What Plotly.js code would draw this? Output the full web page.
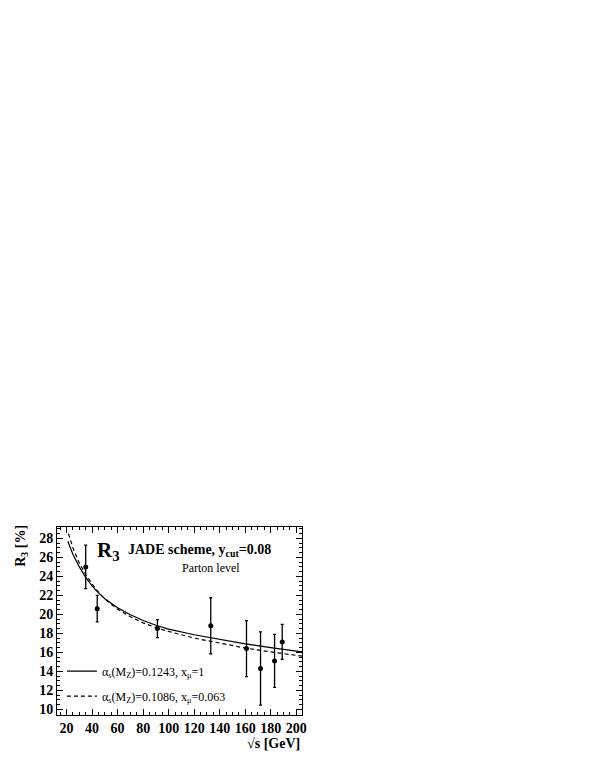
<!DOCTYPE html>
<html>
<head>
<meta charset="utf-8">
<script src="https://cdn.plot.ly/plotly-3.0.1.min.js"></script>
<style>body{margin:0;background:#fff;} #chart{width:599px;height:776px;}</style>
</head>
<body>
<div id="chart"></div>
<script>
// measured R3 points (sqrt(s) in GeV, R3 in %)
const sqrt_s = [35, 44, 91.2, 133, 161, 172, 183, 189];
const r3 = [25.0, 20.6, 18.5, 18.8, 16.4, 14.3, 15.1, 17.1];
const r3_err = [2.3, 1.4, 0.95, 2.95, 2.95, 3.85, 2.8, 1.85];

// theory curves
const q_solid = [21, 22, 25, 30, 35, 40, 44, 50, 60, 70, 80, 91.2, 100, 120, 140, 160, 180, 200, 204.5];
const r3_solid = [27.7, 27.35, 26.3, 25.0, 23.9, 23.0, 22.4, 21.65, 20.7, 19.95, 19.35, 18.8, 18.45, 17.85, 17.35, 16.9, 16.5, 16.1, 16.05];
const q_dashed = [21.5, 25, 30, 35, 40, 44, 50, 60, 70, 80, 91.2, 100, 120, 140, 160, 180, 200, 204.5];
const r3_dashed = [28.5, 27.0, 25.4, 24.2, 23.2, 22.5, 21.6, 20.55, 19.75, 19.1, 18.55, 18.2, 17.5, 16.95, 16.45, 16.05, 15.7, 15.6];

const serif = '"Liberation Serif", "Times New Roman", Times, serif';

const solid = {
    name: "α<sub>s</sub>(M<sub>Z</sub>)=0.1243, x<sub>μ</sub>=1",
    x: q_solid, y: r3_solid,
    mode: "lines", type: "scatter",
    line: { color: "black", width: 1.2 },
    legendgroup: "a",
};
const dashed = {
    name: "α<sub>s</sub>(M<sub>Z</sub>)=0.1086, x<sub>μ</sub>=0.063",
    x: q_dashed, y: r3_dashed,
    mode: "lines", type: "scatter",
    line: { color: "black", width: 1.2, dash: "4px,3px" },
    legendgroup: "b",
};
const points = {
    x: sqrt_s, y: r3,
    error_y: { type: "data", array: r3_err, color: "black", thickness: 1.3, width: 1.5 },
    mode: "markers", type: "scatter",
    marker: { color: "black", size: 5 },
    showlegend: false,
};

const axis_common = {
    showline: true, linecolor: "black", linewidth: 1,
    mirror: "allticks", ticks: "inside", tickcolor: "black",
    showgrid: false, zeroline: false,
    tickfont: { family: serif, size: 14, color: "black", weight: "bold" },
};

const layout = {
    width: 599, height: 776,
    margin: { l: 57, r: 297, t: 527, b: 61 },
    paper_bgcolor: "white", plot_bgcolor: "white",
    showlegend: true,
    legend: {
        x: 0.02, y: 0.31, xanchor: "left", yanchor: "top",
        bgcolor: "rgba(0,0,0,0)",
        font: { family: serif, size: 12, color: "black" },
        tracegroupgap: 6,
    },
    xaxis: Object.assign({}, axis_common, {
        range: [12.5, 204.5], dtick: 20, tick0: 0, ticklen: 6,
        minor: { dtick: 5, ticklen: 3, ticks: "inside", tickcolor: "black" },
    }),
    yaxis: Object.assign({}, axis_common, {
        range: [9.4, 29.2], dtick: 2, tick0: 0, ticklen: 6,
        minor: { dtick: 0.5, ticklen: 3, ticks: "inside", tickcolor: "black" },
    }),
    annotations: [
        { text: "<b>R<sub>3</sub></b>", xref: "paper", yref: "paper", x: 0.155, y: 0.875,
          xanchor: "left", yanchor: "middle",
          showarrow: false, font: { family: serif, size: 21, color: "black" } },
        { text: "<b>JADE scheme, y<sub>cut</sub>=0.08</b>", xref: "paper", yref: "paper", x: 0.28, y: 0.875,
          xanchor: "left", yanchor: "middle", showarrow: false, font: { family: serif, size: 14, color: "black" } },
        { text: "Parton level", xref: "paper", yref: "paper", x: 0.63, y: 0.782,
          xanchor: "center", yanchor: "middle",
          showarrow: false, font: { family: serif, size: 12, color: "black" } },
        { text: "<b>R<sub>3</sub> [%]</b>", xref: "paper", yref: "paper", x: -0.143, y: 0.9,
          xanchor: "center", yanchor: "middle",
          textangle: -90, showarrow: false, font: { family: serif, size: 14, color: "black" } },
        { text: "<b>√s [GeV]</b>", xref: "paper", yref: "paper", x: 1, y: -0.1,
          xanchor: "right", yanchor: "top", showarrow: false, font: { family: serif, size: 14, color: "black" } },
    ],
};

Plotly.newPlot("chart", [solid, dashed, points], layout, { staticPlot: true });
</script>
</body>
</html>
